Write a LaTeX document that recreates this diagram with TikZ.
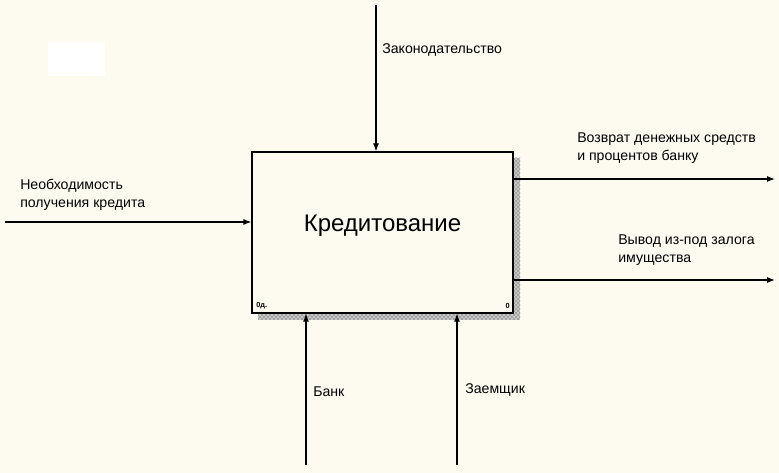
\documentclass[tikz,border=0pt]{standalone}
\usepackage{fontspec}
\setmainfont{Liberation Sans}
\usetikzlibrary{arrows.meta,patterns}
\definecolor{paper}{RGB}{253,250,240}
\tikzset{
  arc/.style={line width=0.9pt, -{Latex[length=6pt,width=4.5pt]}},
  lbl/.style={font=\fontsize{10.6}{13.5}\selectfont, align=left, inner sep=0pt},
  corner/.style={font=\fontsize{5.5}{5.5}\selectfont\bfseries, inner sep=0pt},
  shadow/.style={fill=gray!45, postaction={pattern=crosshatch dots, pattern color=black!80}}
}
\begin{document}
\begin{tikzpicture}[x=0.75pt, y=-0.75pt]
  \fill[paper] (0,0) rectangle (779,473);
  \useasboundingbox (0,0) rectangle (779,473);
  \fill[white] (48,42) rectangle (105,76); % empty white patch

  % shadow of the box
  \path[shadow] (513,158) rectangle (520,320);
  \path[shadow] (258,313) rectangle (513,320);

  \node[draw, fill=paper, line width=0.9pt, minimum width=195.75pt, minimum height=120.75pt] (func) at (382.5,232.5) {};
  \node[font=\fontsize{18}{18}\selectfont, inner sep=0pt] (functxt) at (382.5,226) {Кредитование};
  \node[corner, anchor=south west] (node) at (256,309) {0д.};
  \node[corner, anchor=south east] (cost) at (510,309) {0};

  \coordinate (ctrl) at (376,5);
  \coordinate (inp) at (5,222);
  \coordinate (outA) at (775,179);
  \coordinate (outB) at (775,280);
  \coordinate (mechA) at (306,465);
  \coordinate (mechB) at (457,465);

  \draw[arc] (ctrl) -- (ctrl |- func.north); % control
  \draw[arc] (inp) -- (inp -| func.west); % input
  \draw[arc] (outA -| func.east) -- (outA); % outputs
  \draw[arc] (outB -| func.east) -- (outB);
  \draw[arc] (mechA) -- (mechA |- func.south); % mechanisms
  \draw[arc] (mechB) -- (mechB |- func.south);

  \node[lbl, anchor=west] (ctrltxt) at (382,50) {Законодательство};
  \node[lbl, anchor=west] (inptxt) at (20,195) {Необходимость\\получения кредита};
  \node[lbl, anchor=west] (outAtxt) at (577,148) {Возврат денежных средств\\и процентов банку};
  \node[lbl, anchor=west] (outBtxt) at (618,250) {Вывод из-под залога\\имущества};
  \node[lbl, anchor=west] (mechAtxt) at (313,392) {Банк};
  \node[lbl, anchor=west] (mechBtxt) at (465,390) {Заемщик};
\end{tikzpicture}
\end{document}
